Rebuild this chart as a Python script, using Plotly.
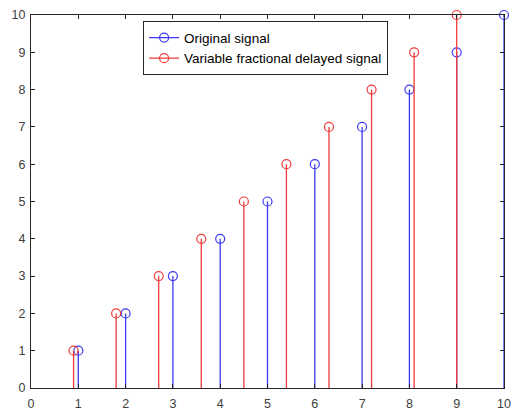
import plotly.graph_objects as go

n = [1, 2, 3, 4, 5, 6, 7, 8, 9, 10]
orig_y = [1, 2, 3, 4, 5, 6, 7, 8, 9, 10]
delayed_x = [0.9, 1.8, 2.7, 3.6, 4.5, 5.4, 6.3, 7.2, 8.1, 9.0]
delayed_y = [1, 2, 3, 4, 5, 6, 7, 8, 9, 10]
names = ["Original signal", "Variable fractional delayed signal"]
colors = ["#3a3af0", "#f03a3a"]

fig = go.Figure()

def add_stem(x, y, name, color):
    fig.add_trace(go.Scatter(
        x=x, y=y, mode="markers", showlegend=False, cliponaxis=False,
        marker=dict(symbol="circle-open", size=9, color=color, line=dict(width=1.2, color=color)),
        error_y=dict(type="data", symmetric=False, array=[0] * len(y), arrayminus=y,
                     width=0, thickness=1.3, color=color),
    ))
    fig.add_trace(go.Scatter(
        x=[None], y=[None], mode="lines+markers", name=name,
        line=dict(color=color, width=1.2),
        marker=dict(symbol="circle-open", size=9, color=color, line=dict(width=1.2, color=color)),
    ))

add_stem(n, orig_y, names[0], colors[0])
add_stem(delayed_x, delayed_y, names[1], colors[1])

axis_common = dict(
    showgrid=False, zeroline=False, showline=True, linecolor="#262626", linewidth=1,
    mirror="allticks", ticks="inside", ticklen=4, tickcolor="#262626",
    tickfont=dict(family="Liberation Sans, Arial", size=12.5, color="#404040"),
    dtick=1, automargin=False,
)
fig.update_xaxes(range=[0, 10], tick0=0, ticklabelstandoff=4, **axis_common)
fig.update_yaxes(range=[0, 10], tick0=0, ticklabelstandoff=2, **axis_common)

fig.update_layout(
    width=513, height=410,
    margin=dict(l=31, r=9, t=15, b=22, autoexpand=False),
    paper_bgcolor="white", plot_bgcolor="white",
    showlegend=True,
    legend=dict(x=0.237, y=0.983, xanchor="left", yanchor="top",
                bgcolor="white", bordercolor="#262626", borderwidth=1,
                font=dict(family="Liberation Sans, Arial", size=13.5, color="#000000"),
                tracegroupgap=0, itemwidth=30),
)

fig.write_html("out.html")
